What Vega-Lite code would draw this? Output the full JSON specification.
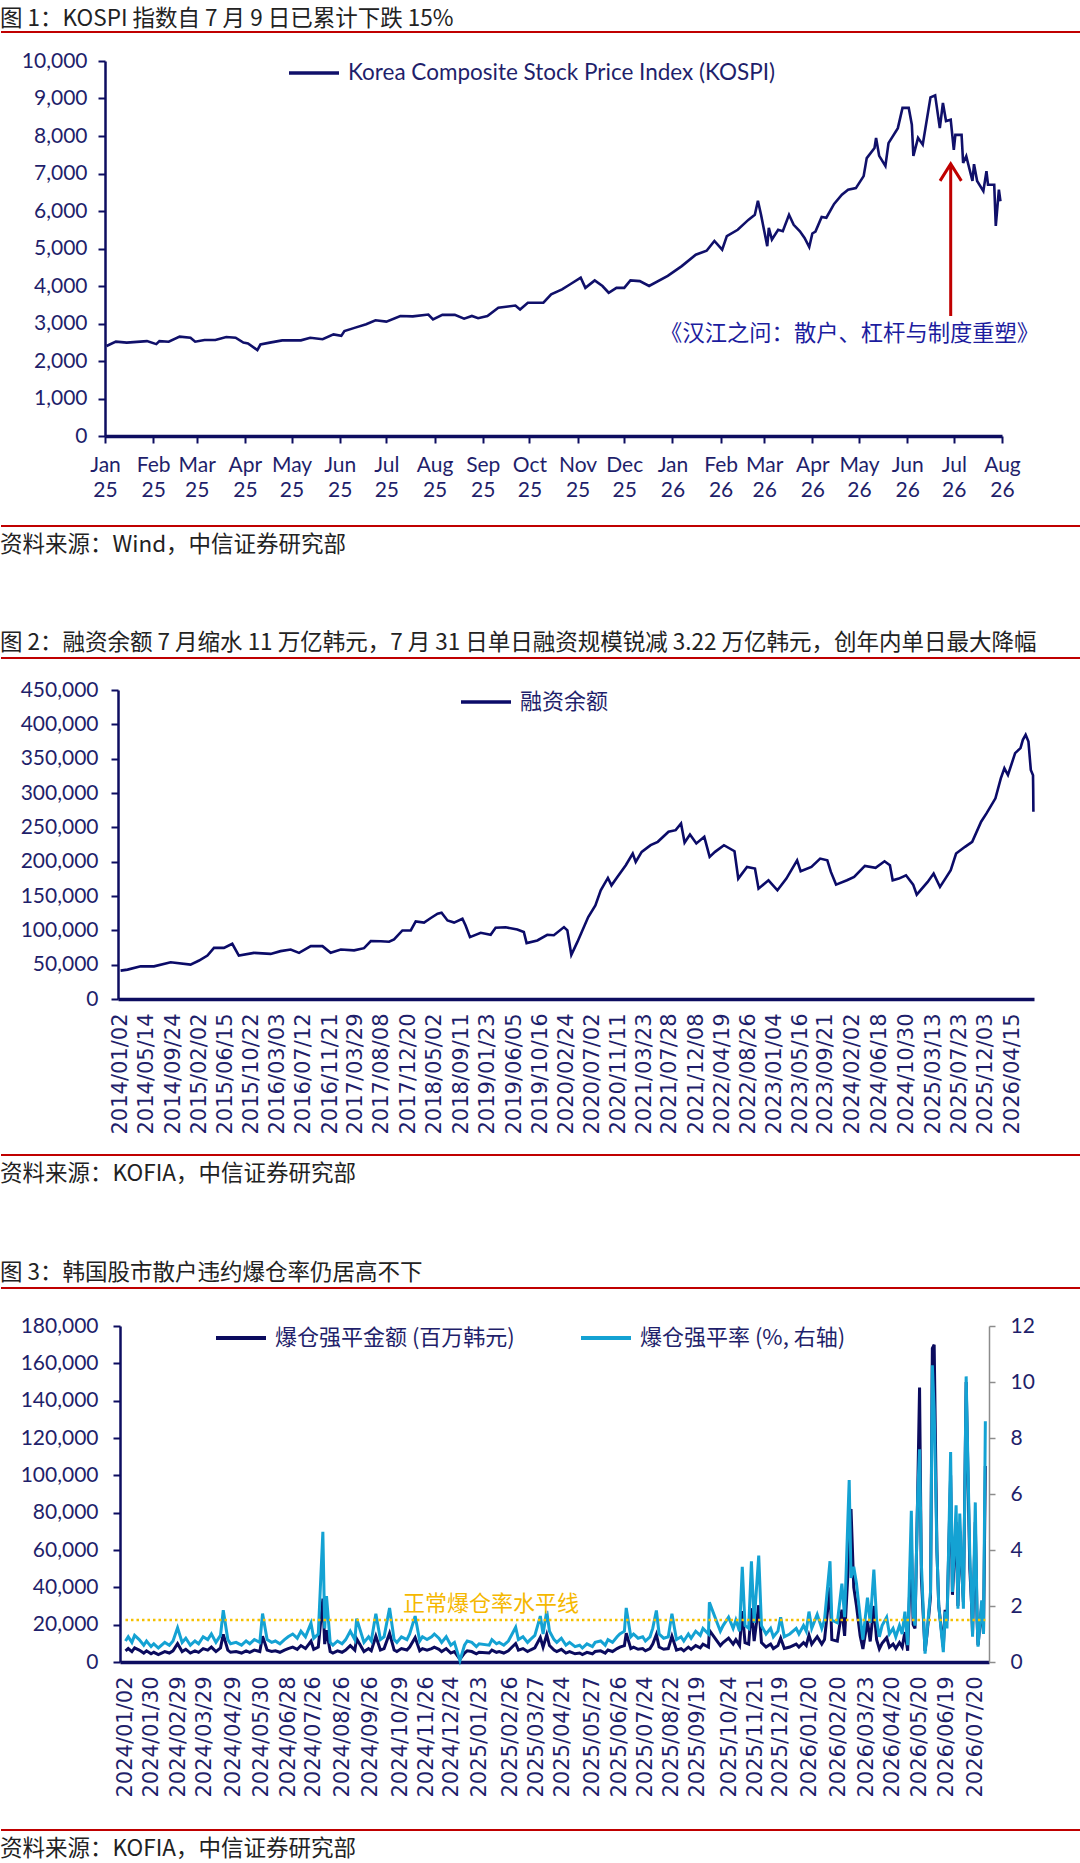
{
  "$schema": "https://vega.github.io/schema/vega-lite/v6.json",
  "background": "white",
  "padding": {"left": 0, "top": 7, "right": 0, "bottom": 0},
  "columns": 1,
  "spacing": 0,
  "resolve": {"scale": {"color": "independent"}, "legend": {"color": "independent"}},
  "config": {
    "view": {"stroke": null},
    "axis": {"grid": false, "labelFont": "Lato", "labelFontSize": 21, "labelColor": "#1f1f6b", "domainColor": "#0d0d60", "tickColor": "#0d0d60", "tickWidth": 2, "domainWidth": 2.5, "labelOverlap": false},
    "title": {"font": "Noto Sans CJK SC", "fontSize": 22.5, "fontWeight": "normal", "color": "#222222", "anchor": "start"},
    "legend": {"padding": 0, "labelColor": "#1f1f6b", "labelOffset": 22, "labelLimit": 600, "symbolType": "M-2.5,0L2.5,0", "symbolSize": 400, "symbolStrokeWidth": 3.5}
  },
  "datasets": {
    "kospi": [
      {"d":"2025-01-02","v":2400},{"d":"2025-01-08","v":2515},{"d":"2025-01-15","v":2490},{"d":"2025-01-28","v":2530},
      {"d":"2025-02-03","v":2450},{"d":"2025-02-05","v":2530},{"d":"2025-02-11","v":2515},{"d":"2025-02-18","v":2650},
      {"d":"2025-02-25","v":2620},{"d":"2025-02-28","v":2515},{"d":"2025-03-06","v":2560},{"d":"2025-03-13","v":2560},
      {"d":"2025-03-20","v":2640},{"d":"2025-03-26","v":2620},{"d":"2025-03-31","v":2490},{"d":"2025-04-03","v":2470},
      {"d":"2025-04-09","v":2290},{"d":"2025-04-11","v":2440},{"d":"2025-04-17","v":2490},{"d":"2025-04-25","v":2550},
      {"d":"2025-05-07","v":2550},{"d":"2025-05-13","v":2620},{"d":"2025-05-21","v":2580},{"d":"2025-05-28","v":2710},
      {"d":"2025-06-02","v":2670},{"d":"2025-06-04","v":2800},{"d":"2025-06-11","v":2890},{"d":"2025-06-18","v":2980},
      {"d":"2025-06-24","v":3085},{"d":"2025-07-01","v":3050},{"d":"2025-07-10","v":3200},{"d":"2025-07-18","v":3190},
      {"d":"2025-07-28","v":3240},{"d":"2025-07-31","v":3110},{"d":"2025-08-06","v":3230},{"d":"2025-08-14","v":3230},
      {"d":"2025-08-20","v":3130},{"d":"2025-08-25","v":3200},{"d":"2025-08-29","v":3140},{"d":"2025-09-04","v":3200},
      {"d":"2025-09-11","v":3420},{"d":"2025-09-22","v":3480},{"d":"2025-09-25","v":3375},{"d":"2025-09-30","v":3555},
      {"d":"2025-10-10","v":3555},{"d":"2025-10-15","v":3775},{"d":"2025-10-22","v":3910},{"d":"2025-10-27","v":4040},
      {"d":"2025-11-03","v":4220},{"d":"2025-11-06","v":3950},{"d":"2025-11-12","v":4150},{"d":"2025-11-17","v":4000},
      {"d":"2025-11-21","v":3820},{"d":"2025-11-26","v":3950},{"d":"2025-12-01","v":3950},{"d":"2025-12-05","v":4150},
      {"d":"2025-12-11","v":4130},{"d":"2025-12-17","v":4000},{"d":"2025-12-29","v":4270},{"d":"2026-01-07","v":4530},
      {"d":"2026-01-16","v":4835},{"d":"2026-01-23","v":4940},{"d":"2026-01-28","v":5200},{"d":"2026-02-02","v":4970},
      {"d":"2026-02-05","v":5330},{"d":"2026-02-12","v":5500},{"d":"2026-02-19","v":5770},{"d":"2026-02-23","v":5900},
      {"d":"2026-02-25","v":6275},{"d":"2026-02-27","v":5900},{"d":"2026-03-03","v":5060},{"d":"2026-03-04","v":5550},
      {"d":"2026-03-06","v":5240},{"d":"2026-03-10","v":5500},{"d":"2026-03-13","v":5460},{"d":"2026-03-17","v":5900},
      {"d":"2026-03-20","v":5630},{"d":"2026-03-24","v":5460},{"d":"2026-03-27","v":5280},{"d":"2026-03-30","v":5040},
      {"d":"2026-04-01","v":5400},{"d":"2026-04-03","v":5450},{"d":"2026-04-07","v":5840},{"d":"2026-04-10","v":5820},
      {"d":"2026-04-15","v":6190},{"d":"2026-04-20","v":6435},{"d":"2026-04-24","v":6570},{"d":"2026-04-29","v":6610},
      {"d":"2026-05-04","v":6930},{"d":"2026-05-06","v":7410},{"d":"2026-05-11","v":7680},{"d":"2026-05-12","v":7950},
      {"d":"2026-05-14","v":7470},{"d":"2026-05-18","v":7200},{"d":"2026-05-20","v":7810},{"d":"2026-05-26","v":8210},
      {"d":"2026-05-29","v":8750},{"d":"2026-06-02","v":8750},{"d":"2026-06-04","v":8300},{"d":"2026-06-05","v":7470},
      {"d":"2026-06-08","v":7950},{"d":"2026-06-11","v":7770},{"d":"2026-06-16","v":9030},{"d":"2026-06-19","v":9085},
      {"d":"2026-06-22","v":8210},{"d":"2026-06-24","v":8880},{"d":"2026-06-26","v":8400},{"d":"2026-06-29","v":8435},
      {"d":"2026-07-01","v":7630},{"d":"2026-07-02","v":8030},{"d":"2026-07-06","v":8030},{"d":"2026-07-07","v":7280},
      {"d":"2026-07-09","v":7460},{"d":"2026-07-13","v":6800},{"d":"2026-07-14","v":7250},{"d":"2026-07-16","v":6800},
      {"d":"2026-07-20","v":6530},{"d":"2026-07-22","v":7060},{"d":"2026-07-23","v":6700},{"d":"2026-07-27","v":6700},
      {"d":"2026-07-28","v":5600},{"d":"2026-07-30","v":6570},{"d":"2026-07-31","v":6260}
    ],
    "margin": [
      {"d":"2014-01-02","m":41350},{"d":"2014-02-06","m":42800},{"d":"2014-04-13","m":47770},{"d":"2014-06-19","m":47500},
      {"d":"2014-09-11","m":53600},{"d":"2014-12-20","m":50100},{"d":"2015-02-01","m":56000},{"d":"2015-03-15","m":63300},
      {"d":"2015-04-17","m":74500},{"d":"2015-06-06","m":74500},{"d":"2015-07-18","m":80350},{"d":"2015-08-20","m":63300},
      {"d":"2015-11-04","m":67200},{"d":"2016-01-27","m":65700},{"d":"2016-03-17","m":69700},{"d":"2016-05-07","m":72000},
      {"d":"2016-06-18","m":67200},{"d":"2016-08-16","m":77000},{"d":"2016-10-14","m":77000},{"d":"2016-11-24","m":67200},
      {"d":"2017-01-14","m":72000},{"d":"2017-03-22","m":70800},{"d":"2017-05-11","m":74000},{"d":"2017-06-14","m":84300},
      {"d":"2017-08-03","m":84000},{"d":"2017-09-14","m":83400},{"d":"2017-10-09","m":86700},{"d":"2017-11-20","m":99800},
      {"d":"2018-01-01","m":99800},{"d":"2018-01-26","m":112900},{"d":"2018-03-09","m":111300},{"d":"2018-04-12","m":117900},
      {"d":"2018-05-16","m":124200},{"d":"2018-06-05","m":125600},{"d":"2018-07-05","m":114400},{"d":"2018-08-07","m":111300},
      {"d":"2018-09-18","m":116900},{"d":"2018-10-04","m":107100},{"d":"2018-10-26","m":90100},{"d":"2018-12-19","m":96400},
      {"d":"2019-02-07","m":93500},{"d":"2019-03-04","m":103700},{"d":"2019-04-23","m":104500},{"d":"2019-06-21","m":101200},
      {"d":"2019-07-24","m":97500},{"d":"2019-08-07","m":81400},{"d":"2019-09-30","m":85200},{"d":"2019-11-19","m":93500},
      {"d":"2019-12-22","m":92800},{"d":"2020-02-11","m":104700},{"d":"2020-02-28","m":100000},{"d":"2020-03-19","m":64300},
      {"d":"2020-04-18","m":82800},{"d":"2020-06-12","m":119400},{"d":"2020-07-18","m":136300},{"d":"2020-08-14","m":158300},
      {"d":"2020-09-19","m":176300},{"d":"2020-10-07","m":165500},{"d":"2020-11-02","m":176300},{"d":"2020-12-18","m":194800},
      {"d":"2021-01-22","m":211800},{"d":"2021-02-06","m":199700},{"d":"2021-03-08","m":214300},{"d":"2021-04-22","m":224000},
      {"d":"2021-05-28","m":228900},{"d":"2021-07-21","m":243500},{"d":"2021-08-26","m":245900},{"d":"2021-09-22","m":255700},
      {"d":"2021-10-10","m":227900},{"d":"2021-11-06","m":239600},{"d":"2021-12-08","m":226500},{"d":"2022-01-17","m":236200},
      {"d":"2022-02-13","m":207000},{"d":"2022-03-12","m":214300},{"d":"2022-04-26","m":224000},{"d":"2022-06-18","m":215200},
      {"d":"2022-07-07","m":175300},{"d":"2022-08-20","m":192400},{"d":"2022-09-29","m":189900},{"d":"2022-10-17","m":160700},
      {"d":"2022-12-06","m":172900},{"d":"2023-01-20","m":158300},{"d":"2023-03-06","m":175300},{"d":"2023-04-29","m":202000},
      {"d":"2023-05-17","m":186000},{"d":"2023-07-10","m":192400},{"d":"2023-08-23","m":204500},{"d":"2023-09-28","m":202000},
      {"d":"2023-10-16","m":185100},{"d":"2023-11-11","m":166600},{"d":"2024-01-05","m":172900},{"d":"2024-02-10","m":177800},
      {"d":"2024-04-04","m":193900},{"d":"2024-05-28","m":191000},{"d":"2024-07-12","m":200600},{"d":"2024-08-08","m":194800},
      {"d":"2024-08-22","m":172900},{"d":"2024-09-22","m":175300},{"d":"2024-10-28","m":180200},{"d":"2024-12-03","m":166600},
      {"d":"2024-12-21","m":151900},{"d":"2025-02-14","m":170500},{"d":"2025-03-16","m":182600},{"d":"2025-04-17","m":163200},
      {"d":"2025-05-14","m":175300},{"d":"2025-06-10","m":187500},{"d":"2025-07-07","m":211800},{"d":"2025-08-21","m":221600},
      {"d":"2025-09-26","m":228900},{"d":"2025-11-10","m":258200},{"d":"2025-12-07","m":270300},{"d":"2026-01-21","m":292200},
      {"d":"2026-02-17","m":321400},{"d":"2026-03-07","m":336000},{"d":"2026-03-25","m":326200},{"d":"2026-04-30","m":358000},
      {"d":"2026-05-27","m":365300},{"d":"2026-06-08","m":377400},{"d":"2026-06-22","m":384700},{"d":"2026-07-06","m":375000},
      {"d":"2026-07-18","m":333600},{"d":"2026-07-29","m":326000},{"d":"2026-07-30","m":305000},{"d":"2026-07-31","m":272800}
    ],
    "liq": [
      {"d":"2024-01-02","a":6000,"r":0.75},{"d":"2024-01-05","a":7200,"r":0.9},{"d":"2024-01-09","a":5600,"r":0.7},{"d":"2024-01-12","a":7600,"r":0.95},
      {"d":"2024-01-17","a":6400,"r":0.8},{"d":"2024-01-22","a":4800,"r":0.6},{"d":"2024-01-25","a":6000,"r":0.75},{"d":"2024-01-30","a":4400,"r":0.55},
      {"d":"2024-02-02","a":5200,"r":0.65},{"d":"2024-02-07","a":4000,"r":0.5},{"d":"2024-02-14","a":5600,"r":0.7},{"d":"2024-02-19","a":4800,"r":0.6},
      {"d":"2024-02-23","a":6000,"r":0.75},{"d":"2024-02-28","a":9800,"r":1.22},{"d":"2024-03-04","a":5600,"r":0.7},{"d":"2024-03-08","a":6800,"r":0.85},
      {"d":"2024-03-13","a":4800,"r":0.6},{"d":"2024-03-18","a":6000,"r":0.75},{"d":"2024-03-22","a":5200,"r":0.65},{"d":"2024-03-27","a":7200,"r":0.9},
      {"d":"2024-04-01","a":6400,"r":0.8},{"d":"2024-04-05","a":8000,"r":1.0},{"d":"2024-04-10","a":5600,"r":0.7},{"d":"2024-04-15","a":7600,"r":0.95},
      {"d":"2024-04-18","a":14800,"r":1.85},{"d":"2024-04-23","a":6400,"r":0.8},{"d":"2024-04-26","a":5200,"r":0.65},{"d":"2024-05-02","a":5600,"r":0.7},
      {"d":"2024-05-08","a":4800,"r":0.6},{"d":"2024-05-13","a":6000,"r":0.75},{"d":"2024-05-17","a":5200,"r":0.65},{"d":"2024-05-22","a":6400,"r":0.8},
      {"d":"2024-05-28","a":5600,"r":0.7},{"d":"2024-05-31","a":13800,"r":1.73},{"d":"2024-06-05","a":6400,"r":0.8},{"d":"2024-06-10","a":5600,"r":0.7},
      {"d":"2024-06-14","a":6000,"r":0.75},{"d":"2024-06-19","a":5200,"r":0.65},{"d":"2024-06-24","a":6400,"r":0.8},{"d":"2024-06-28","a":7200,"r":0.9},
      {"d":"2024-07-03","a":8000,"r":1.0},{"d":"2024-07-08","a":6800,"r":0.85},{"d":"2024-07-12","a":8800,"r":1.1},{"d":"2024-07-17","a":7200,"r":0.9},
      {"d":"2024-07-23","a":11100,"r":1.39},{"d":"2024-07-26","a":6800,"r":0.85},{"d":"2024-07-31","a":8000,"r":1.0},{"d":"2024-08-05","a":34000,"r":4.65},
      {"d":"2024-08-07","a":9600,"r":1.2},{"d":"2024-08-09","a":17000,"r":2.35},{"d":"2024-08-13","a":5600,"r":0.7},{"d":"2024-08-16","a":4800,"r":0.6},
      {"d":"2024-08-21","a":6000,"r":0.75},{"d":"2024-08-26","a":5200,"r":0.65},{"d":"2024-08-30","a":6400,"r":0.8},{"d":"2024-09-04","a":8800,"r":1.1},
      {"d":"2024-09-09","a":6400,"r":0.8},{"d":"2024-09-11","a":12400,"r":1.55},{"d":"2024-09-19","a":5600,"r":0.7},{"d":"2024-09-24","a":7200,"r":0.9},
      {"d":"2024-09-27","a":6000,"r":0.75},{"d":"2024-10-02","a":13800,"r":1.72},{"d":"2024-10-07","a":6400,"r":0.8},{"d":"2024-10-11","a":7200,"r":0.9},
      {"d":"2024-10-17","a":15400,"r":1.93},{"d":"2024-10-22","a":6400,"r":0.8},{"d":"2024-10-25","a":5600,"r":0.7},{"d":"2024-10-30","a":7200,"r":0.9},
      {"d":"2024-11-05","a":6400,"r":0.8},{"d":"2024-11-08","a":8000,"r":1.0},{"d":"2024-11-14","a":13100,"r":1.64},{"d":"2024-11-19","a":6000,"r":0.75},
      {"d":"2024-11-22","a":7200,"r":0.9},{"d":"2024-11-27","a":6400,"r":0.8},{"d":"2024-12-02","a":7200,"r":0.9},{"d":"2024-12-05","a":8000,"r":1.0},
      {"d":"2024-12-10","a":6800,"r":0.85},{"d":"2024-12-13","a":5600,"r":0.7},{"d":"2024-12-18","a":7200,"r":0.9},{"d":"2024-12-23","a":4800,"r":0.6},
      {"d":"2024-12-27","a":5600,"r":0.7},{"d":"2025-01-02","a":1500,"r":0.05},{"d":"2025-01-07","a":4800,"r":0.6},{"d":"2025-01-10","a":6000,"r":0.75},
      {"d":"2025-01-15","a":5600,"r":0.7},{"d":"2025-01-20","a":4400,"r":0.55},{"d":"2025-01-23","a":5200,"r":0.65},{"d":"2025-02-03","a":4800,"r":0.6},
      {"d":"2025-02-06","a":6400,"r":0.8},{"d":"2025-02-11","a":5200,"r":0.65},{"d":"2025-02-14","a":5600,"r":0.7},{"d":"2025-02-19","a":4800,"r":0.6},
      {"d":"2025-02-24","a":6000,"r":0.75},{"d":"2025-03-04","a":9900,"r":1.24},{"d":"2025-03-07","a":6400,"r":0.8},{"d":"2025-03-12","a":7200,"r":0.9},
      {"d":"2025-03-17","a":5600,"r":0.7},{"d":"2025-03-20","a":6400,"r":0.8},{"d":"2025-03-25","a":7600,"r":0.95},{"d":"2025-03-31","a":13100,"r":1.64},
      {"d":"2025-04-03","a":8000,"r":1.0},{"d":"2025-04-07","a":14600,"r":1.82},{"d":"2025-04-10","a":8800,"r":1.1},{"d":"2025-04-15","a":6400,"r":0.8},
      {"d":"2025-04-18","a":5600,"r":0.7},{"d":"2025-04-23","a":6800,"r":0.85},{"d":"2025-04-28","a":4800,"r":0.6},{"d":"2025-05-02","a":5600,"r":0.7},
      {"d":"2025-05-08","a":4400,"r":0.55},{"d":"2025-05-13","a":4800,"r":0.6},{"d":"2025-05-16","a":4000,"r":0.5},{"d":"2025-05-21","a":5200,"r":0.65},
      {"d":"2025-05-27","a":4400,"r":0.55},{"d":"2025-05-30","a":5600,"r":0.7},{"d":"2025-06-05","a":6000,"r":0.75},{"d":"2025-06-10","a":4800,"r":0.6},
      {"d":"2025-06-13","a":6400,"r":0.8},{"d":"2025-06-18","a":5600,"r":0.7},{"d":"2025-06-23","a":7200,"r":0.9},{"d":"2025-06-26","a":8000,"r":1.0},
      {"d":"2025-07-01","a":8800,"r":1.1},{"d":"2025-07-03","a":15400,"r":1.93},{"d":"2025-07-08","a":7200,"r":0.9},{"d":"2025-07-11","a":8000,"r":1.0},
      {"d":"2025-07-16","a":6800,"r":0.85},{"d":"2025-07-21","a":7200,"r":0.9},{"d":"2025-07-24","a":6000,"r":0.75},{"d":"2025-07-29","a":7200,"r":0.9},
      {"d":"2025-08-01","a":9600,"r":1.2},{"d":"2025-08-05","a":14700,"r":1.84},{"d":"2025-08-08","a":8000,"r":1.0},{"d":"2025-08-13","a":6800,"r":0.85},
      {"d":"2025-08-18","a":7200,"r":0.9},{"d":"2025-08-22","a":13800,"r":1.72},{"d":"2025-08-27","a":6400,"r":0.8},{"d":"2025-09-01","a":7200,"r":0.9},
      {"d":"2025-09-04","a":6000,"r":0.75},{"d":"2025-09-09","a":8000,"r":1.0},{"d":"2025-09-12","a":6800,"r":0.85},{"d":"2025-09-17","a":8800,"r":1.1},
      {"d":"2025-09-22","a":7600,"r":0.95},{"d":"2025-09-25","a":9600,"r":1.2},{"d":"2025-10-01","a":8000,"r":1.0},{"d":"2025-10-02","a":17000,"r":2.13},
      {"d":"2025-10-14","a":8800,"r":1.1},{"d":"2025-10-17","a":10400,"r":1.3},{"d":"2025-10-23","a":12800,"r":1.6},{"d":"2025-10-28","a":9600,"r":1.2},
      {"d":"2025-10-31","a":12000,"r":1.5},{"d":"2025-11-04","a":8800,"r":1.1},{"d":"2025-11-07","a":27200,"r":3.4},{"d":"2025-11-10","a":10400,"r":1.3},
      {"d":"2025-11-14","a":9600,"r":1.2},{"d":"2025-11-17","a":28800,"r":3.6},{"d":"2025-11-20","a":11200,"r":1.4},{"d":"2025-11-25","a":30400,"r":3.8},
      {"d":"2025-11-28","a":10400,"r":1.3},{"d":"2025-12-03","a":8000,"r":1.0},{"d":"2025-12-08","a":9600,"r":1.2},{"d":"2025-12-11","a":7200,"r":0.9},
      {"d":"2025-12-16","a":8800,"r":1.1},{"d":"2025-12-19","a":12800,"r":1.6},{"d":"2025-12-23","a":7200,"r":0.9},{"d":"2025-12-29","a":8000,"r":1.0},
      {"d":"2026-01-05","a":9600,"r":1.2},{"d":"2026-01-08","a":8000,"r":1.0},{"d":"2026-01-13","a":10400,"r":1.3},{"d":"2026-01-16","a":8800,"r":1.1},
      {"d":"2026-01-19","a":14400,"r":1.8},{"d":"2026-01-22","a":9600,"r":1.2},{"d":"2026-01-28","a":13600,"r":1.7},{"d":"2026-02-02","a":9600,"r":1.2},
      {"d":"2026-02-05","a":12000,"r":1.5},{"d":"2026-02-11","a":40000,"r":3.6},{"d":"2026-02-13","a":12000,"r":1.5},{"d":"2026-02-19","a":11200,"r":1.4},
      {"d":"2026-02-24","a":28000,"r":2.8},{"d":"2026-02-27","a":14000,"r":1.6},{"d":"2026-03-04","a":60000,"r":6.5},{"d":"2026-03-06","a":82000,"r":3.0},
      {"d":"2026-03-09","a":40000,"r":3.4},{"d":"2026-03-12","a":30000,"r":2.8},{"d":"2026-03-16","a":14000,"r":1.6},{"d":"2026-03-19","a":7000,"r":0.8},
      {"d":"2026-03-24","a":22000,"r":2.3},{"d":"2026-03-27","a":11000,"r":1.4},{"d":"2026-03-31","a":30000,"r":3.3},{"d":"2026-04-03","a":12000,"r":1.5},
      {"d":"2026-04-06","a":7000,"r":0.9},{"d":"2026-04-09","a":10000,"r":1.3},{"d":"2026-04-14","a":13000,"r":1.6},{"d":"2026-04-17","a":8000,"r":1.0},
      {"d":"2026-04-21","a":9600,"r":1.2},{"d":"2026-04-24","a":7200,"r":0.9},{"d":"2026-04-28","a":10400,"r":1.3},{"d":"2026-05-01","a":8000,"r":1.0},
      {"d":"2026-05-04","a":16000,"r":1.8},{"d":"2026-05-07","a":6000,"r":0.6},{"d":"2026-05-11","a":65000,"r":5.4},{"d":"2026-05-13","a":20000,"r":1.7},
      {"d":"2026-05-15","a":18000,"r":1.3},{"d":"2026-05-18","a":91500,"r":6.0},{"d":"2026-05-20","a":147000,"r":7.6},{"d":"2026-05-22","a":45000,"r":3.5},
      {"d":"2026-05-26","a":6000,"r":0.3},{"d":"2026-05-28","a":14000,"r":1.0},{"d":"2026-06-01","a":35000,"r":2.5},{"d":"2026-06-03","a":168000,"r":10.6},
      {"d":"2026-06-05","a":170000,"r":9.0},{"d":"2026-06-08","a":60000,"r":4.0},{"d":"2026-06-10","a":30000,"r":2.0},{"d":"2026-06-15","a":8000,"r":0.35},
      {"d":"2026-06-17","a":28000,"r":1.8},{"d":"2026-06-19","a":22000,"r":1.2},{"d":"2026-06-23","a":100000,"r":7.5},{"d":"2026-06-25","a":36000,"r":2.5},
      {"d":"2026-06-29","a":75000,"r":5.6},{"d":"2026-07-01","a":30000,"r":1.9},{"d":"2026-07-03","a":70000,"r":5.3},{"d":"2026-07-07","a":32000,"r":1.9},
      {"d":"2026-07-10","a":150000,"r":10.2},{"d":"2026-07-14","a":50000,"r":3.8},{"d":"2026-07-16","a":30000,"r":2.0},{"d":"2026-07-17","a":15000,"r":0.9},
      {"d":"2026-07-20","a":75000,"r":5.7},{"d":"2026-07-22","a":22000,"r":1.5},{"d":"2026-07-23","a":9000,"r":0.55},{"d":"2026-07-27","a":30000,"r":2.2},
      {"d":"2026-07-29","a":15000,"r":1.0},{"d":"2026-07-31","a":105000,"r":8.6}
    ]
  },
  "concat": [
    {
      "width": 1080, "height": 18,
      "title": {"text": "图 1：KOSPI 指数自 7 月 9 日已累计下跌 15%", "offset": 1},
      "data": {"values": [{}]},
      "mark": {"type": "rule", "color": "#c00000", "strokeWidth": 2},
      "encoding": {"y": {"value": 0}}
    },
    {
      "width": 1080, "height": 375,
      "data": {"name": "kospi"},
      "layer": [
        {
          "mark": {"type": "line", "strokeWidth": 2.6},
          "encoding": {
            "x": {"field": "d", "type": "temporal",
              "scale": {"type": "utc", "range": [104, 1001], "domain": [{"year":2025,"month":1,"date":1,"utc":true}, {"year":2026,"month":8,"date":1,"utc":true}]},
              "axis": {"title": null, "tickCount": {"interval": "month", "step": 1}, "labelExpr": "[utcFormat(datum.value, '%b'), utcFormat(datum.value, '%y')]",
                "tickSize": 7, "labelPadding": 11, "labelLineHeight": 25, "domainWidth": 3.5, "labelAngle": 0, "labelFlush": false, "labelOverlap": false, "minExtent": 88.5, "maxExtent": 88.5}},
            "y": {"field": "v", "type": "quantitative",
              "scale": {"domain": [0, 10000]},
              "axis": {"title": null, "offset": -104, "values": [0,1000,2000,3000,4000,5000,6000,7000,8000,9000,10000], "format": ",.0f", "tickSize": 7, "labelPadding": 11, "labelOverlap": false}},
            "color": {"datum": "Korea Composite Stock Price Index (KOSPI)", "type": "nominal",
              "scale": {"domain": ["Korea Composite Stock Price Index (KOSPI)"], "range": ["#10106a"]},
              "legend": {"title": null, "orient": "none", "legendX": 301, "legendY": 0, "labelFont": "Lato", "labelFontSize": 22.5}}
          }
        },
        {
          "data": {"values": [{}]},
          "mark": {"type": "point", "shape": "M0,1L0,-1M-0.14,-0.776L0,-1L0.14,-0.776", "size": 23104, "filled": false, "stroke": "#c00000", "strokeWidth": 3, "opacity": 1},
          "encoding": {
            "x": {"datum": {"year":2026,"month":6,"date":29,"utc":true}, "type": "temporal",
              "axis": {"title": null, "tickCount": {"interval": "month", "step": 1}, "labelExpr": "[utcFormat(datum.value, '%b'), utcFormat(datum.value, '%y')]",
                "tickSize": 7, "labelPadding": 11, "labelLineHeight": 25, "domainWidth": 3.5, "labelAngle": 0, "labelFlush": false, "labelOverlap": false, "minExtent": 88.5, "maxExtent": 88.5}},
            "y": {"datum": 5230, "type": "quantitative",
              "axis": {"title": null, "offset": -104, "values": [0,1000,2000,3000,4000,5000,6000,7000,8000,9000,10000], "format": ",.0f", "tickSize": 7, "labelPadding": 11, "labelOverlap": false}}
          }
        },
        {
          "data": {"values": [{}]},
          "mark": {"type": "text", "font": "Noto Sans CJK SC", "fontSize": 22.3, "color": "#1c1c9e", "align": "center", "baseline": "middle"},
          "encoding": {
            "x": {"datum": {"year":2026,"month":4,"date":25,"utc":true}, "type": "temporal",
              "axis": {"title": null, "tickCount": {"interval": "month", "step": 1}, "labelExpr": "[utcFormat(datum.value, '%b'), utcFormat(datum.value, '%y')]",
                "tickSize": 7, "labelPadding": 11, "labelLineHeight": 25, "domainWidth": 3.5, "labelAngle": 0, "labelFlush": false, "labelOverlap": false, "minExtent": 88.5, "maxExtent": 88.5}},
            "y": {"datum": 2720, "type": "quantitative",
              "axis": {"title": null, "offset": -104, "values": [0,1000,2000,3000,4000,5000,6000,7000,8000,9000,10000], "format": ",.0f", "tickSize": 7, "labelPadding": 11, "labelOverlap": false}},
            "text": {"value": "《汉江之问：散户、杠杆与制度重塑》"}
          }
        }
      ]
    },
    {
      "width": 1080, "height": 105,
      "title": {"text": "资料来源：Wind，中信证券研究部", "offset": -31},
      "data": {"values": [{}]},
      "mark": {"type": "rule", "color": "#c00000", "strokeWidth": 2},
      "encoding": {"y": {"value": 0}}
    },
    {
      "width": 1080, "height": 21,
      "title": {"text": "图 2：融资余额 7 月缩水 11 万亿韩元，7 月 31 日单日融资规模锐减 3.22 万亿韩元，创年内单日最大降幅", "offset": 3},
      "data": {"values": [{}]},
      "mark": {"type": "rule", "color": "#c00000", "strokeWidth": 2},
      "encoding": {"y": {"value": 0}}
    },
    {
      "width": 1080, "height": 309,
      "data": {"name": "margin"},
      "mark": {"type": "line", "strokeWidth": 2.6},
      "encoding": {
        "x": {"field": "d", "type": "temporal",
          "scale": {"type": "utc", "range": [117, 1033], "domain": [{"year":2013,"month":12,"date":20,"utc":true}, {"year":2026,"month":8,"date":3,"utc":true}]},
          "axis": {"title": null, "ticks": false, "labelAngle": 270, "labelFont": "DejaVu Sans", "labelFontSize": 21, "labelPadding": 14, "domainWidth": 3.5,
            "labelFlush": false, "labelOverlap": false, "minExtent": 155, "maxExtent": 155,
            "labelExpr": "utcFormat(datum.value, '%Y/%m/%d')",
            "values": [
              {"year":2014,"month":1,"date":2,"utc":true},{"year":2014,"month":5,"date":14,"utc":true},{"year":2014,"month":9,"date":24,"utc":true},
              {"year":2015,"month":2,"date":2,"utc":true},{"year":2015,"month":6,"date":15,"utc":true},{"year":2015,"month":10,"date":22,"utc":true},
              {"year":2016,"month":3,"date":3,"utc":true},{"year":2016,"month":7,"date":12,"utc":true},{"year":2016,"month":11,"date":21,"utc":true},
              {"year":2017,"month":3,"date":29,"utc":true},{"year":2017,"month":8,"date":8,"utc":true},{"year":2017,"month":12,"date":20,"utc":true},
              {"year":2018,"month":5,"date":2,"utc":true},{"year":2018,"month":9,"date":11,"utc":true},{"year":2019,"month":1,"date":23,"utc":true},
              {"year":2019,"month":6,"date":5,"utc":true},{"year":2019,"month":10,"date":16,"utc":true},{"year":2020,"month":2,"date":24,"utc":true},
              {"year":2020,"month":7,"date":2,"utc":true},{"year":2020,"month":11,"date":11,"utc":true},{"year":2021,"month":3,"date":23,"utc":true},
              {"year":2021,"month":7,"date":28,"utc":true},{"year":2021,"month":12,"date":8,"utc":true},{"year":2022,"month":4,"date":19,"utc":true},
              {"year":2022,"month":8,"date":26,"utc":true},{"year":2023,"month":1,"date":4,"utc":true},{"year":2023,"month":5,"date":16,"utc":true},
              {"year":2023,"month":9,"date":21,"utc":true},{"year":2024,"month":2,"date":2,"utc":true},{"year":2024,"month":6,"date":18,"utc":true},
              {"year":2024,"month":10,"date":30,"utc":true},{"year":2025,"month":3,"date":13,"utc":true},{"year":2025,"month":7,"date":23,"utc":true},
              {"year":2025,"month":12,"date":3,"utc":true},{"year":2026,"month":4,"date":15,"utc":true}
            ]}},
        "y": {"field": "m", "type": "quantitative",
          "scale": {"domain": [0, 450000]},
          "axis": {"title": null, "offset": -117, "values": [0,50000,100000,150000,200000,250000,300000,350000,400000,450000], "format": ",.0f", "tickSize": 7, "labelPadding": 13, "labelOverlap": false}},
        "color": {"datum": "融资余额", "type": "nominal",
          "scale": {"domain": ["融资余额"], "range": ["#0b0b68"]},
          "legend": {"title": null, "orient": "none", "legendX": 473, "legendY": 0, "labelFont": "Noto Sans CJK SC", "labelFontSize": 22}}
      }
    },
    {
      "width": 1080, "height": 106,
      "title": {"text": "资料来源：KOFIA，中信证券研究部", "offset": -31},
      "data": {"values": [{}]},
      "mark": {"type": "rule", "color": "#c00000", "strokeWidth": 2},
      "encoding": {"y": {"value": 0}}
    },
    {
      "width": 1080, "height": 27,
      "title": {"text": "图 3：韩国股市散户违约爆仓率仍居高不下", "offset": 3},
      "data": {"values": [{}]},
      "mark": {"type": "rule", "color": "#c00000", "strokeWidth": 2},
      "encoding": {"y": {"value": 0}}
    },
    {
      "width": 1080, "height": 336,
      "data": {"name": "liq"},
      "layer": [
        {
          "mark": {"type": "line", "strokeWidth": 3},
          "encoding": {
            "x": {"field": "d", "type": "temporal",
              "scale": {"type": "utc", "range": [119, 988], "domain": [{"year":2023,"month":12,"date":27,"utc":true}, {"year":2026,"month":8,"date":4,"utc":true}]},
              "axis": {"title": null, "ticks": false, "labelAngle": 270, "labelFont": "DejaVu Sans", "labelFontSize": 21, "labelPadding": 14, "domainWidth": 3.5,
                "labelFlush": false, "labelOverlap": false, "minExtent": 167, "maxExtent": 167,
                "labelExpr": "utcFormat(datum.value, '%Y/%m/%d')",
                "values": [
                  {"year":2024,"month":1,"date":2,"utc":true},{"year":2024,"month":1,"date":30,"utc":true},{"year":2024,"month":2,"date":29,"utc":true},
                  {"year":2024,"month":3,"date":29,"utc":true},{"year":2024,"month":4,"date":29,"utc":true},{"year":2024,"month":5,"date":30,"utc":true},
                  {"year":2024,"month":6,"date":28,"utc":true},{"year":2024,"month":7,"date":26,"utc":true},{"year":2024,"month":8,"date":26,"utc":true},
                  {"year":2024,"month":9,"date":26,"utc":true},{"year":2024,"month":10,"date":29,"utc":true},{"year":2024,"month":11,"date":26,"utc":true},
                  {"year":2024,"month":12,"date":24,"utc":true},{"year":2025,"month":1,"date":23,"utc":true},{"year":2025,"month":2,"date":26,"utc":true},
                  {"year":2025,"month":3,"date":27,"utc":true},{"year":2025,"month":4,"date":24,"utc":true},{"year":2025,"month":5,"date":27,"utc":true},
                  {"year":2025,"month":6,"date":26,"utc":true},{"year":2025,"month":7,"date":24,"utc":true},{"year":2025,"month":8,"date":22,"utc":true},
                  {"year":2025,"month":9,"date":19,"utc":true},{"year":2025,"month":10,"date":24,"utc":true},{"year":2025,"month":11,"date":21,"utc":true},
                  {"year":2025,"month":12,"date":19,"utc":true},{"year":2026,"month":1,"date":20,"utc":true},{"year":2026,"month":2,"date":20,"utc":true},
                  {"year":2026,"month":3,"date":23,"utc":true},{"year":2026,"month":4,"date":20,"utc":true},{"year":2026,"month":5,"date":20,"utc":true},
                  {"year":2026,"month":6,"date":19,"utc":true},{"year":2026,"month":7,"date":20,"utc":true}
                ]}},
            "y": {"field": "a", "type": "quantitative",
              "scale": {"domain": [0, 180000]},
              "axis": {"title": null, "offset": -119, "values": [0,20000,40000,60000,80000,100000,120000,140000,160000,180000], "format": ",.0f", "tickSize": 7, "labelPadding": 15, "labelOverlap": false}},
            "color": {"datum": "爆仓强平金额 (百万韩元)", "type": "nominal",
              "scale": {"domain": ["爆仓强平金额 (百万韩元)", "爆仓强平率 (%, 右轴)"], "range": ["#0b0b5e", "#14a2d3"]},
              "legend": {"title": null, "orient": "none", "legendX": 228, "legendY": 0, "direction": "horizontal", "columnPadding": 58, "symbolStrokeWidth": 4, "labelFont": "Noto Sans CJK SC", "labelFontSize": 22}}
          }
        },
        {
          "mark": {"type": "line", "strokeWidth": 3},
          "encoding": {
            "x": {"field": "d", "type": "temporal",
              "axis": {"title": null, "ticks": false, "labelAngle": 270, "labelFont": "DejaVu Sans", "labelFontSize": 21, "labelPadding": 14, "domainWidth": 3.5,
                "labelFlush": false, "labelOverlap": false, "minExtent": 167, "maxExtent": 167,
                "labelExpr": "utcFormat(datum.value, '%Y/%m/%d')",
                "values": [
                  {"year":2024,"month":1,"date":2,"utc":true},{"year":2024,"month":1,"date":30,"utc":true},{"year":2024,"month":2,"date":29,"utc":true},
                  {"year":2024,"month":3,"date":29,"utc":true},{"year":2024,"month":4,"date":29,"utc":true},{"year":2024,"month":5,"date":30,"utc":true},
                  {"year":2024,"month":6,"date":28,"utc":true},{"year":2024,"month":7,"date":26,"utc":true},{"year":2024,"month":8,"date":26,"utc":true},
                  {"year":2024,"month":9,"date":26,"utc":true},{"year":2024,"month":10,"date":29,"utc":true},{"year":2024,"month":11,"date":26,"utc":true},
                  {"year":2024,"month":12,"date":24,"utc":true},{"year":2025,"month":1,"date":23,"utc":true},{"year":2025,"month":2,"date":26,"utc":true},
                  {"year":2025,"month":3,"date":27,"utc":true},{"year":2025,"month":4,"date":24,"utc":true},{"year":2025,"month":5,"date":27,"utc":true},
                  {"year":2025,"month":6,"date":26,"utc":true},{"year":2025,"month":7,"date":24,"utc":true},{"year":2025,"month":8,"date":22,"utc":true},
                  {"year":2025,"month":9,"date":19,"utc":true},{"year":2025,"month":10,"date":24,"utc":true},{"year":2025,"month":11,"date":21,"utc":true},
                  {"year":2025,"month":12,"date":19,"utc":true},{"year":2026,"month":1,"date":20,"utc":true},{"year":2026,"month":2,"date":20,"utc":true},
                  {"year":2026,"month":3,"date":23,"utc":true},{"year":2026,"month":4,"date":20,"utc":true},{"year":2026,"month":5,"date":20,"utc":true},
                  {"year":2026,"month":6,"date":19,"utc":true},{"year":2026,"month":7,"date":20,"utc":true}
                ]}},
            "y": {"field": "r", "type": "quantitative",
              "scale": {"domain": [0, 12]},
              "axis": {"title": null, "orient": "right", "offset": -92, "values": [0,2,4,6,8,10,12], "tickSize": 6, "labelPadding": 15, "domainColor": "#8c8c8c", "tickColor": "#8c8c8c", "domainWidth": 1.5, "tickWidth": 1.5, "labelOverlap": false}},
            "color": {"datum": "爆仓强平率 (%, 右轴)", "type": "nominal"}
          }
        },
        {
          "mark": {"type": "line", "color": "#f5c000", "strokeWidth": 2.5, "strokeDash": [2.5, 3]},
          "encoding": {
            "x": {"field": "d", "type": "temporal",
              "axis": {"title": null, "ticks": false, "labelAngle": 270, "labelFont": "DejaVu Sans", "labelFontSize": 21, "labelPadding": 14, "domainWidth": 3.5,
                "labelFlush": false, "labelOverlap": false, "minExtent": 167, "maxExtent": 167,
                "labelExpr": "utcFormat(datum.value, '%Y/%m/%d')",
                "values": [
                  {"year":2024,"month":1,"date":2,"utc":true},{"year":2024,"month":1,"date":30,"utc":true},{"year":2024,"month":2,"date":29,"utc":true},
                  {"year":2024,"month":3,"date":29,"utc":true},{"year":2024,"month":4,"date":29,"utc":true},{"year":2024,"month":5,"date":30,"utc":true},
                  {"year":2024,"month":6,"date":28,"utc":true},{"year":2024,"month":7,"date":26,"utc":true},{"year":2024,"month":8,"date":26,"utc":true},
                  {"year":2024,"month":9,"date":26,"utc":true},{"year":2024,"month":10,"date":29,"utc":true},{"year":2024,"month":11,"date":26,"utc":true},
                  {"year":2024,"month":12,"date":24,"utc":true},{"year":2025,"month":1,"date":23,"utc":true},{"year":2025,"month":2,"date":26,"utc":true},
                  {"year":2025,"month":3,"date":27,"utc":true},{"year":2025,"month":4,"date":24,"utc":true},{"year":2025,"month":5,"date":27,"utc":true},
                  {"year":2025,"month":6,"date":26,"utc":true},{"year":2025,"month":7,"date":24,"utc":true},{"year":2025,"month":8,"date":22,"utc":true},
                  {"year":2025,"month":9,"date":19,"utc":true},{"year":2025,"month":10,"date":24,"utc":true},{"year":2025,"month":11,"date":21,"utc":true},
                  {"year":2025,"month":12,"date":19,"utc":true},{"year":2026,"month":1,"date":20,"utc":true},{"year":2026,"month":2,"date":20,"utc":true},
                  {"year":2026,"month":3,"date":23,"utc":true},{"year":2026,"month":4,"date":20,"utc":true},{"year":2026,"month":5,"date":20,"utc":true},
                  {"year":2026,"month":6,"date":19,"utc":true},{"year":2026,"month":7,"date":20,"utc":true}
                ]}},
            "y": {"datum": 22500, "type": "quantitative", "scale": {"domain": [0, 180000]}, "axis": null}
          }
        },
        {
          "data": {"values": [{}]},
          "mark": {"type": "text", "font": "Noto Sans CJK SC", "fontSize": 22, "color": "#f5b800", "align": "center", "baseline": "middle"},
          "encoding": {
            "x": {"datum": {"year":2025,"month":2,"date":5,"utc":true}, "type": "temporal",
              "axis": {"title": null, "ticks": false, "labelAngle": 270, "labelFont": "DejaVu Sans", "labelFontSize": 21, "labelPadding": 14, "domainWidth": 3.5,
                "labelFlush": false, "labelOverlap": false, "minExtent": 167, "maxExtent": 167,
                "labelExpr": "utcFormat(datum.value, '%Y/%m/%d')",
                "values": [
                  {"year":2024,"month":1,"date":2,"utc":true},{"year":2024,"month":1,"date":30,"utc":true},{"year":2024,"month":2,"date":29,"utc":true},
                  {"year":2024,"month":3,"date":29,"utc":true},{"year":2024,"month":4,"date":29,"utc":true},{"year":2024,"month":5,"date":30,"utc":true},
                  {"year":2024,"month":6,"date":28,"utc":true},{"year":2024,"month":7,"date":26,"utc":true},{"year":2024,"month":8,"date":26,"utc":true},
                  {"year":2024,"month":9,"date":26,"utc":true},{"year":2024,"month":10,"date":29,"utc":true},{"year":2024,"month":11,"date":26,"utc":true},
                  {"year":2024,"month":12,"date":24,"utc":true},{"year":2025,"month":1,"date":23,"utc":true},{"year":2025,"month":2,"date":26,"utc":true},
                  {"year":2025,"month":3,"date":27,"utc":true},{"year":2025,"month":4,"date":24,"utc":true},{"year":2025,"month":5,"date":27,"utc":true},
                  {"year":2025,"month":6,"date":26,"utc":true},{"year":2025,"month":7,"date":24,"utc":true},{"year":2025,"month":8,"date":22,"utc":true},
                  {"year":2025,"month":9,"date":19,"utc":true},{"year":2025,"month":10,"date":24,"utc":true},{"year":2025,"month":11,"date":21,"utc":true},
                  {"year":2025,"month":12,"date":19,"utc":true},{"year":2026,"month":1,"date":20,"utc":true},{"year":2026,"month":2,"date":20,"utc":true},
                  {"year":2026,"month":3,"date":23,"utc":true},{"year":2026,"month":4,"date":20,"utc":true},{"year":2026,"month":5,"date":20,"utc":true},
                  {"year":2026,"month":6,"date":19,"utc":true},{"year":2026,"month":7,"date":20,"utc":true}
                ]}},
            "y": {"datum": 31200, "type": "quantitative", "scale": {"domain": [0, 180000]}, "axis": null},
            "text": {"value": "正常爆仓率水平线"}
          }
        }
      ],
      "resolve": {"scale": {"y": "independent"}}
    },
    {
      "width": 1080, "height": 31,
      "title": {"text": "资料来源：KOFIA，中信证券研究部", "offset": -31},
      "data": {"values": [{}]},
      "mark": {"type": "rule", "color": "#c00000", "strokeWidth": 2},
      "encoding": {"y": {"value": 0}}
    }
  ]
}
